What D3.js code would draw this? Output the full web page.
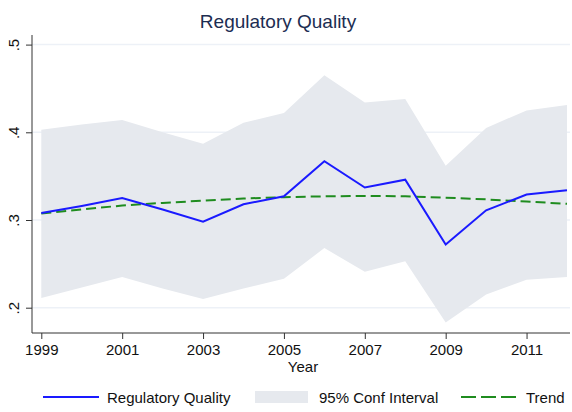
<!DOCTYPE html>
<html>
<head>
<meta charset="utf-8">
<script src="https://cdn.jsdelivr.net/npm/d3@7"></script>
<style>
  body { margin: 0; background: #fff; }
  svg text { font-family: Arial, "Liberation Sans", sans-serif; }
</style>
</head>
<body>
<svg id="chart" width="572" height="412"></svg>
<script>
// chart data
const years = [1999, 2000, 2001, 2002, 2003, 2004, 2005, 2006, 2007, 2008, 2009, 2010, 2011, 2012];
const quality = [0.308, 0.316, 0.325, 0.312, 0.298, 0.318, 0.327, 0.367, 0.337, 0.346, 0.272, 0.311, 0.329, 0.334];
const ciUpper = [0.403, 0.409, 0.414, 0.400, 0.387, 0.411, 0.422, 0.465, 0.434, 0.438, 0.362, 0.405, 0.425, 0.431];
const ciLower = [0.211, 0.223, 0.235, 0.222, 0.210, 0.222, 0.233, 0.268, 0.241, 0.253, 0.183, 0.215, 0.232, 0.235];
const trend = [0.3075, 0.312, 0.3165, 0.3195, 0.322, 0.3245, 0.326, 0.327, 0.3275, 0.327, 0.3255, 0.3235, 0.321, 0.3185];
const yTicks = [0.2, 0.3, 0.4, 0.5];
const xTicks = [1999, 2001, 2003, 2005, 2007, 2009, 2011];

const rows = years.map((y, i) => ({
  year: y, q: quality[i], hi: ciUpper[i], lo: ciLower[i], t: trend[i]
}));

const svg = d3.select('#chart');

// plot frame
const frame = { left: 32, right: 570, top: 30, bottom: 333 };

const x = d3.scaleLinear().domain([1999, 2012]).range([41.3, 567]);
const y = d3.scaleLinear().domain([0.2, 0.5]).range([307.7, 44.6]);

// grid lines behind everything
svg.append('g')
  .selectAll('line')
  .data(yTicks)
  .join('line')
  .attr('x1', frame.left)
  .attr('x2', frame.right)
  .attr('y1', d => y(d))
  .attr('y2', d => y(d))
  .attr('stroke', '#edf1f7')
  .attr('stroke-width', 1.5);

// confidence band
const band = d3.area()
  .x(d => x(d.year))
  .y0(d => y(d.lo))
  .y1(d => y(d.hi));

svg.append('path')
  .datum(rows)
  .attr('d', band)
  .attr('fill', '#e6e9ee');

// trend
svg.append('path')
  .datum(rows)
  .attr('d', d3.line().x(d => x(d.year)).y(d => y(d.t)))
  .attr('fill', 'none')
  .attr('stroke', '#1f8c1f')
  .attr('stroke-width', 2)
  .attr('stroke-dasharray', '10,5');

// main series
svg.append('path')
  .datum(rows)
  .attr('d', d3.line().x(d => x(d.year)).y(d => y(d.q)))
  .attr('fill', 'none')
  .attr('stroke', '#1a1aff')
  .attr('stroke-width', 2);

// y axis, labels turned on their side
const yAxis = svg.append('g')
  .attr('transform', `translate(${frame.left},0)`)
  .call(d3.axisLeft(y).tickValues(yTicks).tickSize(6)
    .tickFormat(d => d3.format('.1f')(d).replace(/^0/, '')));
yAxis.select('.domain').attr('d', `M0,${frame.top + 5}V${frame.bottom}`);
yAxis.selectAll('.tick text')
  .attr('x', 0)
  .attr('y', 0)
  .attr('dy', '0.35em')
  .attr('transform', 'translate(-18,0) rotate(-90)')
  .attr('text-anchor', 'middle')
  .attr('font-size', 15)
  .attr('fill', '#111');

// x axis
const xAxis = svg.append('g')
  .attr('transform', `translate(0,${frame.bottom})`)
  .call(d3.axisBottom(x).tickValues(xTicks).tickSize(6).tickPadding(5)
    .tickFormat(d3.format('d')));
xAxis.select('.domain').attr('d', `M${frame.left},0H${frame.right}`);
xAxis.selectAll('text')
  .attr('font-size', 15)
  .attr('fill', '#111');
svg.selectAll('.domain, .tick line').attr('stroke', '#333');

svg.append('text')
  .attr('x', 303)
  .attr('y', 372)
  .attr('text-anchor', 'middle')
  .attr('font-size', 15)
  .attr('fill', '#111')
  .text('Year');

// title
svg.append('text')
  .attr('x', 278)
  .attr('y', 28)
  .attr('text-anchor', 'middle')
  .attr('font-size', 19)
  .attr('fill', '#1c2d52')
  .text('Regulatory Quality');

// legend
const legend = svg.append('g');
const ly = 397;
legend.append('line')
  .attr('x1', 43).attr('x2', 99).attr('y1', ly).attr('y2', ly)
  .attr('stroke', '#1a1aff').attr('stroke-width', 2);
legend.append('text')
  .attr('x', 107).attr('y', ly + 6).attr('font-size', 15).attr('fill', '#111')
  .text('Regulatory Quality');
legend.append('rect')
  .attr('x', 255).attr('y', ly - 6).attr('width', 53).attr('height', 12)
  .attr('fill', '#e6e9ee');
legend.append('text')
  .attr('x', 319).attr('y', ly + 6).attr('font-size', 15).attr('fill', '#111')
  .text('95% Conf Interval');
legend.append('line')
  .attr('x1', 461).attr('x2', 517).attr('y1', ly).attr('y2', ly)
  .attr('stroke', '#1f8c1f').attr('stroke-width', 2)
  .attr('stroke-dasharray', '15,5');
legend.append('text')
  .attr('x', 526).attr('y', ly + 6).attr('font-size', 15).attr('fill', '#111')
  .text('Trend');
</script>
</body>
</html>
